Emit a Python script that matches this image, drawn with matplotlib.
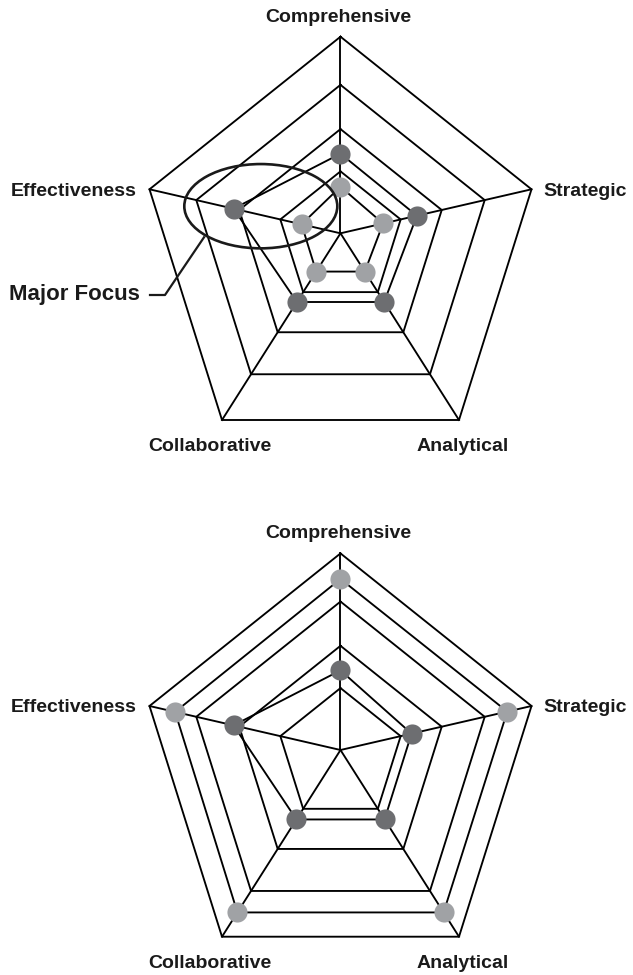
import matplotlib
matplotlib.use("Agg")
import matplotlib.pyplot as plt
import numpy as np
from matplotlib.patches import Ellipse

# data: value of each point as a share of the spoke length
categories = ["Comprehensive", "Strategic", "Analytical", "Collaborative", "Effectiveness"]
ring_levels = [0.315, 0.53, 0.755, 1.0]

top_dark = [0.405, 0.40, 0.368, 0.368, 0.56]
top_light = [0.237, 0.223, 0.205, 0.205, 0.204]

bottom_dark = [0.405, 0.372, 0.372, 0.372, 0.56]
bottom_light = [0.87, 0.873, 0.87, 0.87, 0.866]

focus_label = "Major Focus"

# drawing geometry (pixels from the chart centre, y up)
spokes = np.array([[0, 196.6], [191, 44], [118.5, -186.7], [-118.5, -186.7], [-191, 44]])
label_pos = [(-2, 216, "center"), (203, 42, "left"), (122, -213.5, "center"),
             (-130.5, -213.5, "center"), (-204, 42, "right")]

dark_col = "#6d6e71"
light_col = "#a0a2a5"
lw = 1.35

plt.rcParams['font.family'] = ['Liberation Sans', 'DejaVu Sans']

fig = plt.figure(figsize=(6.33, 9.75), dpi=100)


def closed(vals):
    pts = np.array(vals)[:, None] * spokes
    return np.vstack([pts, pts[:1]])


def radar(ax, dark, light):
    for lev in ring_levels:
        p = closed([lev] * len(categories))
        ax.plot(p[:, 0], p[:, 1], color="black", lw=lw, zorder=1)
    for sx, sy in spokes:
        ax.plot([0, sx], [0, sy], color="black", lw=lw, zorder=1)
    for vals, col in [(dark, dark_col), (light, light_col)]:
        p = closed(vals)
        ax.plot(p[:, 0], p[:, 1], color="black", lw=lw, zorder=2)
        ax.plot(p[:-1, 0], p[:-1, 1], ls="none", marker="o", ms=14.5,
                mfc=col, mec="none", zorder=3)
    for name, (x, y, ha) in zip(categories, label_pos):
        ax.text(x, y, name, ha=ha, va="center", fontsize=14, fontweight="bold",
                color="#1a1a1a")
    ax.set_aspect("equal")
    ax.axis("off")


# top chart
ax1 = fig.add_axes([0, 0.5, 1, 0.5])
radar(ax1, top_dark, top_light)
ax1.set_xlim(-340.5, 292.5)
ax1.set_ylim(-254.2, 233.3)

ax1.add_patch(Ellipse((-79.7, 27.1), 153, 84.3, fill=False, ec="#1a1a1a", lw=1.9, zorder=4))
ax1.plot([-190.5, -175.5, -136.5], [-61.7, -61.7, -4], color="#1a1a1a", lw=1.6, zorder=4)
ax1.text(-200.5, -61, focus_label, ha="right", va="center", fontsize=16,
         fontweight="bold", color="#1a1a1a")

# bottom chart
ax2 = fig.add_axes([0, 0, 1, 0.5])
radar(ax2, bottom_dark, bottom_light)
ax2.set_xlim(-340.5, 292.5)
ax2.set_ylim(-225, 262.5)

fig.savefig("out.png", dpi=100)
